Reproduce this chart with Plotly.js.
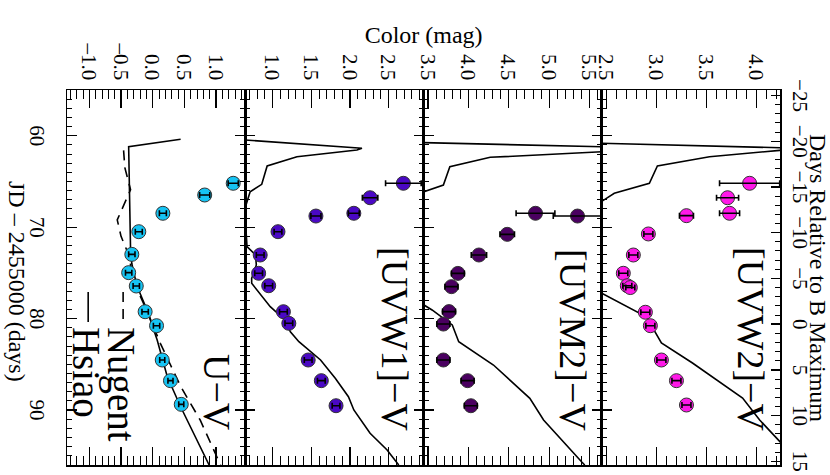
<!DOCTYPE html>
<html><head><meta charset="utf-8">
<script src="https://cdn.plot.ly/plotly-3.0.1.min.js"></script>
<style>
html,body{margin:0;padding:0;width:830px;height:475px;overflow:hidden;background:#fff;}
#wrap{position:absolute;left:0;top:0;width:475px;height:830px;transform-origin:0 0;transform:translate(830px,0) rotate(90deg);}
</style></head><body><div id="wrap"></div>
<script>
const bMaxJD = 80.6;
const jdRange = [55, 96];

// [UVW2]-V
const uvw2JD  = [65.2, 66.78, 68.48, 68.74, 70.74, 73.04, 75.04, 76.4, 76.6, 79.3, 80.77, 84.52, 86.78, 89.44];
const uvw2Col = [3.93, 3.71, 3.73, 3.30, 2.92, 2.77, 2.67, 2.71, 2.74, 2.89, 2.94, 3.05, 3.20, 3.30];
const uvw2Err = [0.30, 0.11, 0.10, 0.07, 0.045, 0.045, 0.045, 0.045, 0.045, 0.045, 0.045, 0.045, 0.045, 0.045];
// [UVM2]-V
const uvm2JD  = [68.78, 68.48, 70.78, 73.04, 75.05, 76.5, 79.23, 80.59, 84.52, 86.78, 89.52];
const uvm2Col = [5.35, 4.83, 4.48, 4.13, 3.87, 3.79, 3.76, 3.69, 3.69, 3.99, 4.03];
const uvm2Err = [0.30, 0.24, 0.09, 0.095, 0.08, 0.08, 0.08, 0.08, 0.08, 0.08, 0.08];
// [UVW1]-V
const uvw1JD  = [65.2, 66.78, 68.48, 68.78, 70.49, 73.04, 75.04, 76.4, 79.24, 80.51, 84.52, 86.78, 89.52];
const uvw1Col = [2.69, 2.26, 2.05, 1.56, 1.07, 0.84, 0.82, 0.95, 1.14, 1.21, 1.46, 1.63, 1.82];
const uvw1Err = [0.23, 0.10, 0.07, 0.065, 0.05, 0.05, 0.05, 0.05, 0.05, 0.05, 0.05, 0.05, 0.05];
// U-V
const uvJD  = [65.2, 66.48, 68.48, 70.49, 72.97, 74.97, 76.43, 79.24, 80.77, 84.52, 86.78, 89.37];
const uvCol = [1.27, 0.82, 0.16, -0.22, -0.33, -0.38, -0.26, -0.12, 0.06, 0.15, 0.28, 0.45];
const uvErr = [0.08, 0.08, 0.055, 0.055, 0.05, 0.05, 0.05, 0.05, 0.05, 0.04, 0.04, 0.04];

// U-V axis tick labels
const uvTickVals = [-1.0, -0.5, 0.0, 0.5, 1.0];
const uvTickText = ['\u20131.0', '\u20130.5', '0.0', '0.5', '1.0'];

// Hsiao template colours
const hsW2JD  = [60.6, 61.37, 61.6, 62.29, 63.31, 65.2, 66.3, 67.21, 69, 72, 75, 77.2, 79.79, 82.66, 84.85, 86.89, 88.68, 91.08, 93.45, 96];
const hsW2Col = [1.6, 4.45, 4.23, 3.53, 3.01, 2.93, 2.58, 2.45, 2.25, 2.15, 2.2, 2.45, 2.90, 3.05, 3.36, 3.63, 3.86, 4.03, 4.23, 4.45];
const hsM2JD  = [60.6, 61.38, 61.75, 62.36, 63.39, 65.39, 66.12, 70, 74, 78.51, 79.05, 80.69, 82.52, 85.07, 88.71, 91.08, 95.64, 96];
const hsM2Col = [2.68, 6.5, 5.65, 4.27, 3.77, 3.69, 3.45, 3.1, 3.05, 3.45, 3.55, 3.80, 3.88, 4.31, 4.76, 4.93, 5.40, 5.44];
const hsW1JD  = [60.3, 61.37, 61.56, 62.29, 63.31, 65.31, 66.12, 67.76, 69.4, 72.13, 73.04, 74.13, 75.59, 76.13, 78.69, 80.15, 81.43, 82.52, 84.52, 86.52, 88.53, 89.98, 92.53, 94.36, 96];
const hsW1Col = [0.36, 2.155, 2.09, 1.315, 0.93, 0.86, 0.71, 0.65, 0.65, 0.67, 0.78, 0.79, 0.73, 0.73, 0.97, 1.16, 1.23, 1.34, 1.62, 1.81, 1.98, 2.05, 2.26, 2.48, 2.63];
const hsUJD   = [60.39, 61.2, 72.49, 74.0, 76.4, 79.05, 82.33, 86.35, 89.63, 92.54, 96];
const hsUCol  = [0.44, -0.38, -0.35, -0.33, -0.25, -0.09, 0.07, 0.23, 0.44, 0.65, 0.89];
// Nugent template U-V
const nuUJD   = [61.6, 63.5, 65.9, 67.5, 69.2, 71.0, 73.0, 76.0, 79.0, 82.7, 87.4, 91.1, 96];
const nuUCol  = [-0.46, -0.44, -0.35, -0.45, -0.56, -0.50, -0.38, -0.30, -0.10, 0.12, 0.44, 0.75, 1.07];

const panelLabels = ['U\u2212V', '[UVW1]\u2212V', '[UVM2]\u2212V', '[UVW2]\u2212V'];
const colRanges = [[-1.353, 1.46], [0.647, 2.95], [3.444, 5.65], [2.455, 4.233]];
const colors = ['#16c4f4', '#4a08c4', '#4a0060', '#ff18e8'];

const fnt = '"Liberation Serif", "Times New Roman", serif';
const data = [];
const sets = [
  {jd: uvJD, c: uvCol, e: uvErr, hj: hsUJD, hc: hsUCol},
  {jd: uvw1JD, c: uvw1Col, e: uvw1Err, hj: hsW1JD, hc: hsW1Col},
  {jd: uvm2JD, c: uvm2Col, e: uvm2Err, hj: hsM2JD, hc: hsM2Col},
  {jd: uvw2JD, c: uvw2Col, e: uvw2Err, hj: hsW2JD, hc: hsW2Col}
];
sets.forEach((s, i) => {
  const xa = i === 0 ? 'x' : 'x' + (i + 1);
  const ya = i === 0 ? 'y' : 'y' + (i + 1);
  if (i === 0) {
    data.push({x: nuUJD, y: nuUCol, xaxis: xa, yaxis: ya, mode: 'lines', name: 'Nugent',
      line: {color: '#000', width: 1.6, dash: '10px,7px'}, showlegend: true, legend: 'legend', hoverinfo: 'skip'});
  }
  data.push({x: s.hj, y: s.hc, xaxis: xa, yaxis: ya, mode: 'lines', name: 'Hsiao',
    line: {color: '#000', width: 1.6}, showlegend: i === 0, legend: 'legend2', hoverinfo: 'skip'});
  data.push({x: s.jd, y: s.c, xaxis: xa, yaxis: ya, mode: 'markers', showlegend: false,
    marker: {size: 14, color: colors[i], line: {color: '#333', width: 1}}});
  data.push({x: s.jd, y: s.c, xaxis: xa, yaxis: ya, mode: 'markers', showlegend: false,
    marker: {size: 14, color: 'rgba(0,0,0,0)'},
    error_y: {type: 'data', array: s.e, visible: true, color: '#000', thickness: 1.6, width: 3}});
});
// top axis trace holder
data.push({x: [], y: [], xaxis: 'x5', yaxis: 'y4', showlegend: false});

const tf = {family: fnt, size: 21, color: '#000000'};
function xAx(extra) {
  return Object.assign({range: jdRange, showline: true, linecolor: '#000', linewidth: 1.5, mirror: 'ticks',
    ticks: 'inside', ticklen: 10, tickwidth: 1.3, tickcolor: '#000', dtick: 10, tick0: 0,
    minor: {dtick: 1, ticklen: 5, tickwidth: 1, tickcolor: '#000', ticks: 'inside'},
    showgrid: false, zeroline: false, showticklabels: false, tickfont: tf}, extra);
}
function yAx(i, extra) {
  return Object.assign({range: colRanges[i], domain: [i * 0.25, (i + 1) * 0.25], showline: true, linecolor: '#000',
    linewidth: 1.5, mirror: 'ticks', ticks: 'inside', ticklen: 18, tickwidth: 1.3, tickcolor: '#000',
    dtick: 0.5, tick0: 0, tickformat: '.1f',
    minor: {dtick: 0.1, ticklen: 9, tickwidth: 1, tickcolor: '#000', ticks: 'inside'},
    showgrid: false, zeroline: false, tickfont: tf, ticklabelstandoff: 4}, extra);
}

const annotations = panelLabels.map((t, i) => ({
  text: t, xref: (i === 0 ? 'x' : 'x' + (i + 1)) + ' domain', yref: (i === 0 ? 'y' : 'y' + (i + 1)) + ' domain',
  x: 0.915, y: 0.84, xanchor: 'right', yanchor: 'middle', showarrow: false,
  font: {family: fnt, size: 38, color: '#000'}
}));
annotations.push({text: 'Color (mag)', xref: 'paper', yref: 'paper', x: -0.147, y: 0.5, textangle: -90,
  xanchor: 'center', yanchor: 'middle', showarrow: false, font: {family: fnt, size: 24, color: '#000'}});
annotations.push({text: 'JD \u2013 2455000 (days)', xref: 'paper', yref: 'paper', x: 0.51, y: -0.070,
  xanchor: 'center', yanchor: 'middle', showarrow: false, font: {family: fnt, size: 24, color: '#000'}});
annotations.push({text: 'Days Relative to B Maximum', xref: 'paper', yref: 'paper', x: 0.5, y: 1.053,
  xanchor: 'center', yanchor: 'middle', showarrow: false, font: {family: fnt, size: 24, color: '#000'}});

const layout = {
  width: 475, height: 830, margin: {l: 90, r: 10, t: 50, b: 67},
  paper_bgcolor: '#fff', plot_bgcolor: '#fff', showlegend: true,
  xaxis: xAx({anchor: 'y', showticklabels: true, ticklabelstandoff: 10}),
  xaxis2: xAx({anchor: 'y2', matches: 'x'}),
  xaxis3: xAx({anchor: 'y3', matches: 'x'}),
  xaxis4: xAx({anchor: 'y4', matches: 'x', mirror: true}),
  xaxis5: {range: [jdRange[0] - bMaxJD, jdRange[1] - bMaxJD], overlaying: 'x4', anchor: 'y4', side: 'top',
    showline: false, ticks: 'inside', ticklen: 9, tickwidth: 1.3, tickcolor: '#000', dtick: 5, tick0: 0,
    minor: {dtick: 1, ticklen: 5, tickwidth: 1, tickcolor: '#000', ticks: 'inside'},
    showgrid: false, zeroline: false, tickfont: tf, ticklabelstandoff: 8},
  yaxis: yAx(0, {anchor: 'x', tickmode: 'array', tickvals: uvTickVals, ticktext: uvTickText}),
  yaxis2: yAx(1, {anchor: 'x2'}),
  yaxis3: yAx(2, {anchor: 'x3'}),
  yaxis4: yAx(3, {anchor: 'x4'}),
  legend: {x: 0.525, xanchor: 'left', y: 0.0785, yanchor: 'middle', bgcolor: 'rgba(0,0,0,0)',
    font: {family: fnt, size: 39, color: '#000'}, borderwidth: 0},
  legend2: {x: 0.525, xanchor: 'left', y: 0.0295, yanchor: 'middle', bgcolor: 'rgba(0,0,0,0)',
    font: {family: fnt, size: 39, color: '#000'}, borderwidth: 0},
  annotations: annotations
};
Plotly.newPlot('wrap', data, layout, {staticPlot: true, displayModeBar: false});
</script></body></html>
